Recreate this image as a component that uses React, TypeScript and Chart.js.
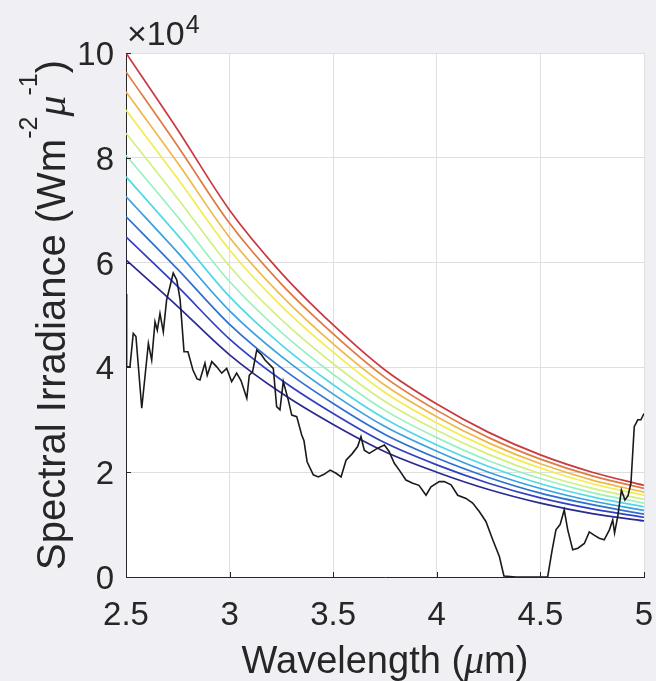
import React, { useEffect, useRef } from 'react';
import { Chart, registerables } from 'chart.js';

Chart.register(...registerables);

// Wavelength grid for the blackbody-like reference curves (µm)
const WAVELENGTHS = [2.5, 2.75, 3.0, 3.25, 3.5, 3.75, 4.0, 4.25, 4.5, 4.75, 5.0];

// Reference curves (×10^4 W m^-2 µ^-1), bottom (coolest) to top (hottest)
const CURVE_0 = [6.05, 5.16, 4.24, 3.51, 2.91, 2.39, 2.0, 1.67, 1.41, 1.21, 1.07];
const CURVE_1 = [6.49, 5.54, 4.54, 3.76, 3.12, 2.56, 2.14, 1.79, 1.51, 1.3, 1.14];
const CURVE_2 = [6.88, 5.87, 4.82, 3.99, 3.31, 2.72, 2.27, 1.9, 1.6, 1.38, 1.2];
const CURVE_3 = [7.26, 6.19, 5.08, 4.21, 3.49, 2.87, 2.4, 2.0, 1.69, 1.45, 1.27];
const CURVE_4 = [7.64, 6.52, 5.35, 4.43, 3.67, 3.02, 2.52, 2.11, 1.78, 1.53, 1.34];
const CURVE_5 = [8.05, 6.87, 5.64, 4.67, 3.87, 3.18, 2.66, 2.22, 1.88, 1.61, 1.41];
const CURVE_6 = [8.47, 7.22, 5.93, 4.91, 4.07, 3.35, 2.8, 2.34, 1.97, 1.69, 1.48];
const CURVE_7 = [8.91, 7.6, 6.24, 5.17, 4.29, 3.52, 2.94, 2.46, 2.08, 1.78, 1.56];
const CURVE_8 = [9.26, 7.9, 6.48, 5.37, 4.45, 3.66, 3.06, 2.56, 2.16, 1.85, 1.62];
const CURVE_9 = [9.64, 8.22, 6.75, 5.59, 4.64, 3.81, 3.18, 2.66, 2.25, 1.93, 1.69];
const CURVE_10 = [10.0, 8.53, 7.0, 5.8, 4.81, 3.95, 3.3, 2.76, 2.33, 2.0, 1.75];

const CURVES = [CURVE_0, CURVE_1, CURVE_2, CURVE_3, CURVE_4, CURVE_5, CURVE_6, CURVE_7, CURVE_8, CURVE_9, CURVE_10];
const CURVE_COLORS = [
  '#2a2a90', '#3040c0', '#2f6fd0', '#3aa0e0', '#50d8e8', '#98f0c0',
  '#d0f080', '#f2ec50', '#f0b848', '#e07a40', '#c83a40',
];

// Measured spectrum (black line)
const SPEC_X = [
  2.5, 2.503, 2.519, 2.535, 2.548, 2.576, 2.608, 2.624, 2.64, 2.651, 2.664, 2.68, 2.696, 2.712,
  2.728, 2.745, 2.761, 2.78, 2.799, 2.823, 2.843, 2.857, 2.881, 2.892, 2.914, 2.938, 2.962, 2.986,
  3.01, 3.034, 3.055, 3.083, 3.095, 3.111, 3.131, 3.152, 3.171, 3.211, 3.227, 3.243, 3.259, 3.283,
  3.3, 3.324, 3.348, 3.359, 3.374, 3.404, 3.428, 3.456, 3.485, 3.514, 3.538, 3.562, 3.591, 3.618,
  3.634, 3.65, 3.674, 3.711, 3.747, 3.769, 3.795, 3.819, 3.851, 3.884, 3.914, 3.948, 3.972, 4.012,
  4.036, 4.069, 4.101, 4.141, 4.173, 4.205, 4.237, 4.27, 4.302, 4.324, 4.382, 4.535, 4.556, 4.575,
  4.595, 4.615, 4.632, 4.656, 4.681, 4.712, 4.736, 4.759, 4.784, 4.808, 4.833, 4.849, 4.858, 4.873,
  4.891, 4.908, 4.923, 4.937, 4.953, 4.97, 4.985, 5.0,
];
const SPEC_Y = [
  5.4, 4.01, 4.01, 4.65, 4.59, 3.22, 4.46, 4.14, 4.87, 4.71, 5.03, 4.68, 5.29, 5.54,
  5.8, 5.67, 5.3, 4.3, 4.3, 3.95, 3.78, 3.76, 4.08, 3.85, 4.11, 4.01, 3.89, 3.98,
  3.73, 3.89, 3.75, 3.41, 3.85, 3.92, 4.33, 4.25, 4.14, 3.98, 3.25, 3.19, 3.73, 3.38,
  3.09, 3.06, 2.71, 2.6, 2.2, 1.95, 1.91, 1.96, 2.04, 1.98, 1.91, 2.23, 2.35, 2.49,
  2.68, 2.42, 2.36, 2.45, 2.52, 2.4, 2.17, 2.04, 1.85, 1.79, 1.75, 1.56, 1.72, 1.82,
  1.82, 1.76, 1.56, 1.5, 1.41, 1.25, 1.06, 0.71, 0.39, 0.02, 0.0, 0.0, 0.5, 0.9,
  1.0, 1.28, 0.9, 0.52, 0.55, 0.64, 0.86, 0.8, 0.74, 0.71, 0.9, 1.09, 0.84, 1.15,
  1.66, 1.47, 1.55, 1.79, 2.87, 3.0, 3.0, 3.12,
];

const X_MIN = 2.5;
const X_MAX = 5;
const X_STEP = 0.5;
const Y_MIN = 0;
const Y_MAX = 10;
const Y_STEP = 2;

const X_TITLE_PARTS = ['Wavelength (', 'μ', 'm)'];
const Y_TITLE_PARTS = ['Spectral Irradiance (Wm', '-2', 'μ', '-1', ')'];
const EXPONENT_BASE = '×10';
const EXPONENT_POWER = '4';

const FONT = '"Liberation Sans", Arial, Helvetica, sans-serif';
const SERIF = '"Liberation Serif", "DejaVu Serif", serif';
const TEXT_COLOR = '#262626';
const FIG_BG = '#f0eff3';

const fmt = (v: number) => String(Math.round(v * 10) / 10);

const decorPlugin = {
  id: 'decor',
  beforeDraw(chart: any) {
    const { ctx, chartArea: a } = chart;
    ctx.save();
    ctx.fillStyle = FIG_BG;
    ctx.fillRect(0, 0, chart.width, chart.height);
    ctx.fillStyle = '#ffffff';
    ctx.fillRect(a.left, a.top, a.right - a.left, a.bottom - a.top);
    ctx.restore();
  },
  afterDraw(chart: any) {
    const { ctx, chartArea: a, scales } = chart;
    ctx.save();
    // inward ticks
    ctx.strokeStyle = TEXT_COLOR;
    ctx.lineWidth = 1;
    scales.x.ticks.forEach((t: any) => {
      const px = Math.round(scales.x.getPixelForValue(t.value)) + 0.5;
      ctx.beginPath();
      ctx.moveTo(px, a.bottom);
      ctx.lineTo(px, a.bottom - 5);
      ctx.stroke();
    });
    scales.y.ticks.forEach((t: any) => {
      const py = Math.round(scales.y.getPixelForValue(t.value)) + 0.5;
      ctx.beginPath();
      ctx.moveTo(a.left, py);
      ctx.lineTo(a.left + 5, py);
      ctx.stroke();
    });

    ctx.fillStyle = TEXT_COLOR;
    ctx.textBaseline = 'alphabetic';
    ctx.textAlign = 'left';

    // X title
    const xf = [`38px ${FONT}`, `italic 40px ${SERIF}`, `38px ${FONT}`];
    let total = 0;
    const xw = X_TITLE_PARTS.map((p, i) => {
      ctx.font = xf[i];
      const w = ctx.measureText(p).width;
      total += w;
      return w;
    });
    let cx = (a.left + a.right) / 2 - total / 2;
    X_TITLE_PARTS.forEach((p, i) => {
      ctx.font = xf[i];
      ctx.fillText(p, cx, 673);
      cx += xw[i];
    });

    // Y title (rotated, with superscripts)
    const yf = [`40px ${FONT}`, `25px ${FONT}`, `italic 42px ${SERIF}`, `25px ${FONT}`, `40px ${FONT}`];
    const yr = [0, 28, 0, 28, 0];
    total = 0;
    const yw = Y_TITLE_PARTS.map((p, i) => {
      ctx.font = yf[i];
      const w = ctx.measureText(p).width;
      total += w;
      return w;
    });
    ctx.save();
    ctx.translate(65, (a.top + a.bottom) / 2);
    ctx.rotate(-Math.PI / 2);
    let lx = -total / 2;
    Y_TITLE_PARTS.forEach((p, i) => {
      ctx.font = yf[i];
      ctx.fillText(p, lx, -yr[i]);
      lx += yw[i];
    });
    ctx.restore();

    // exponent label
    ctx.font = `34px ${FONT}`;
    ctx.fillText(EXPONENT_BASE, 127, 45);
    const bw = ctx.measureText(EXPONENT_BASE).width;
    ctx.font = `25px ${FONT}`;
    ctx.fillText(EXPONENT_POWER, 127 + bw + 1, 33);
    ctx.restore();
  },
};

export default function App() {
  const ref = useRef<HTMLCanvasElement | null>(null);

  useEffect(() => {
    if (!ref.current) return;
    const datasets: any[] = [
      {
        label: 'Spectrum',
        data: SPEC_X.map((x, i) => ({ x, y: SPEC_Y[i] })),
        borderColor: '#1a1a1a',
        borderWidth: 1.6,
        pointRadius: 0,
        tension: 0,
      },
    ];
    for (let i = CURVES.length - 1; i >= 0; i--) {
      datasets.push({
        label: `T${i}`,
        data: WAVELENGTHS.map((x, j) => ({ x, y: CURVES[i][j] })),
        borderColor: CURVE_COLORS[i],
        borderWidth: 1.7,
        pointRadius: 0,
        cubicInterpolationMode: 'monotone',
      });
    }

    const chart = new Chart(ref.current, {
      type: 'line',
      data: { datasets },
      options: {
        animation: false,
        responsive: false,
        maintainAspectRatio: false,
        layout: { padding: { top: 53, right: 12, left: 0, bottom: 0 } },
        plugins: { legend: { display: false }, tooltip: { enabled: false } },
        scales: {
          x: {
            type: 'linear',
            min: X_MIN,
            max: X_MAX,
            ticks: {
              stepSize: X_STEP,
              font: { family: FONT, size: 33 },
              color: TEXT_COLOR,
              padding: 19,
              maxRotation: 0,
              callback: (v: any) => fmt(Number(v)),
            },
            grid: { color: '#dfdfdf', drawTicks: false, lineWidth: 1 },
            border: { color: TEXT_COLOR, width: 1 },
            afterFit: (s: any) => {
              s.height = 104;
              s.paddingLeft = 0;
              s.paddingRight = 0;
            },
          },
          y: {
            type: 'linear',
            min: Y_MIN,
            max: Y_MAX,
            ticks: {
              stepSize: Y_STEP,
              font: { family: FONT, size: 33 },
              color: TEXT_COLOR,
              padding: 12,
              labelOffset: 3,
              callback: (v: any) => fmt(Number(v)),
            },
            grid: { color: '#dfdfdf', drawTicks: false, lineWidth: 1 },
            border: { color: TEXT_COLOR, width: 1 },
            afterFit: (s: any) => {
              s.width = 126;
              s.paddingTop = 0;
              s.paddingBottom = 0;
            },
          },
        },
      },
      plugins: [decorPlugin],
    });
    return () => chart.destroy();
  }, []);

  return (
    <div style={{ position: 'fixed', left: 0, top: 0, width: 656, height: 681, background: FIG_BG }}>
      <canvas ref={ref} width={656} height={681} style={{ display: 'block', width: 656, height: 681 }} />
    </div>
  );
}
